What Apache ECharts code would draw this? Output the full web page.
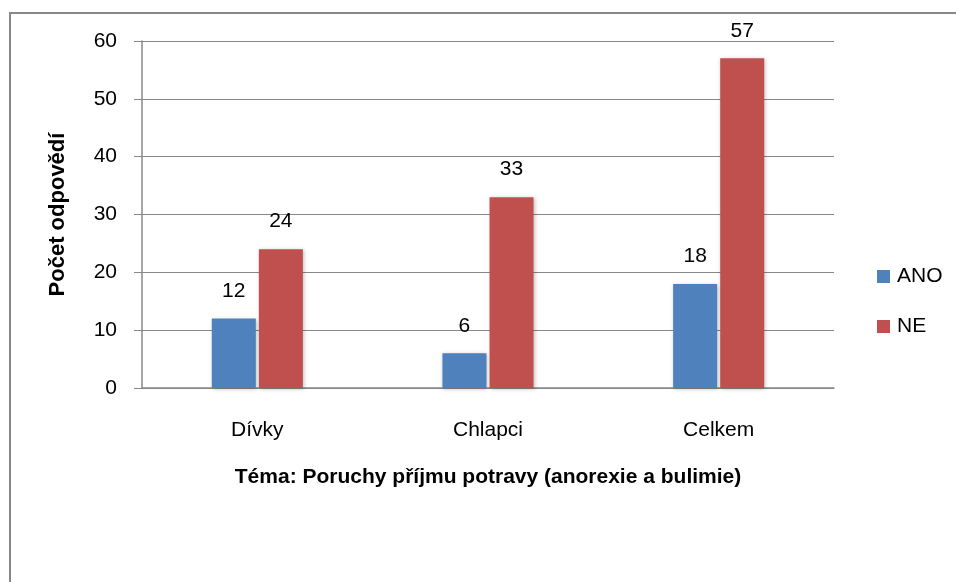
<!DOCTYPE html>
<html>
<head>
<meta charset="utf-8">
<script src="https://cdn.jsdelivr.net/npm/echarts@6/dist/echarts.min.js"></script>
<style>
    html, body { margin: 0; padding: 0; background: #fff; }
    #frame { position: absolute; left: 9px; top: 12px; width: 960px; height: 600px; border: 2px solid #888; box-sizing: border-box; }
    #chart { position: absolute; left: 0; top: 0; width: 956px; height: 582px; }
</style>
</head>
<body>
<div id="frame"></div>
<div id="chart"></div>
<script>
const categories = ['Dívky', 'Chlapci', 'Celkem']
const ano = [12, 6, 18]
const ne = [24, 33, 57]
const yTicks = [0, 10, 20, 30, 40, 50, 60]

const font = '"Liberation Sans", Arial, sans-serif'
const myChart = echarts.init(document.getElementById('chart'))

const barStyle = color => ({
    color: color,
    shadowColor: 'rgba(0,0,0,0.25)',
    shadowBlur: 4,
    shadowOffsetX: 1,
    shadowOffsetY: 1
})

const labelStyle = {
    show: true,
    position: 'top',
    distance: 17,
    fontFamily: font,
    fontSize: 21,
    color: '#000'
}

const option = {
    animation: false,
    textStyle: { fontFamily: font },
    grid: { left: 142, right: 122, top: 41, bottom: 194 },
    legend: {
        orient: 'vertical',
        left: 872,
        top: 261,
        itemWidth: 13,
        itemHeight: 13,
        itemGap: 29,
        icon: 'rect',
        textStyle: { fontFamily: font, fontSize: 21, color: '#000', padding: [0, 0, 0, 2] },
        data: ['ANO', 'NE']
    },
    xAxis: {
        type: 'category',
        data: categories,
        axisTick: { show: false },
        axisLine: { lineStyle: { color: '#888', width: 1.5 } },
        axisLabel: { margin: 32, fontFamily: font, fontSize: 21, color: '#000' },
        name: 'Téma: Poruchy příjmu potravy (anorexie a bulimie)',
        nameLocation: 'middle',
        nameGap: 79,
        nameTextStyle: { fontFamily: font, fontSize: 21, fontWeight: 'bold', color: '#000' }
    },
    yAxis: {
        type: 'value',
        min: yTicks[0],
        max: yTicks[yTicks.length - 1],
        interval: 10,
        axisLine: { show: true, lineStyle: { color: '#888', width: 1.5 } },
        axisTick: { show: true, length: 8, lineStyle: { color: '#888' } },
        splitLine: { lineStyle: { color: '#888', width: 1 } },
        axisLabel: { margin: 25, fontFamily: font, fontSize: 21, color: '#000' },
        name: 'Počet odpovědí',
        nameLocation: 'middle',
        nameGap: 73,
        nameTextStyle: { fontFamily: font, fontSize: 22, fontWeight: 'bold', color: '#000' }
    },
    series: [
        {
            name: 'ANO',
            type: 'bar',
            data: ano,
            barWidth: 44,
            barGap: '7%',
            itemStyle: barStyle('#4F81BD'),
            label: labelStyle
        },
        {
            name: 'NE',
            type: 'bar',
            data: ne,
            barWidth: 44,
            barGap: '7%',
            itemStyle: barStyle('#C0504D'),
            label: labelStyle
        }
    ]
}

myChart.setOption(option)
</script>
</body>
</html>
